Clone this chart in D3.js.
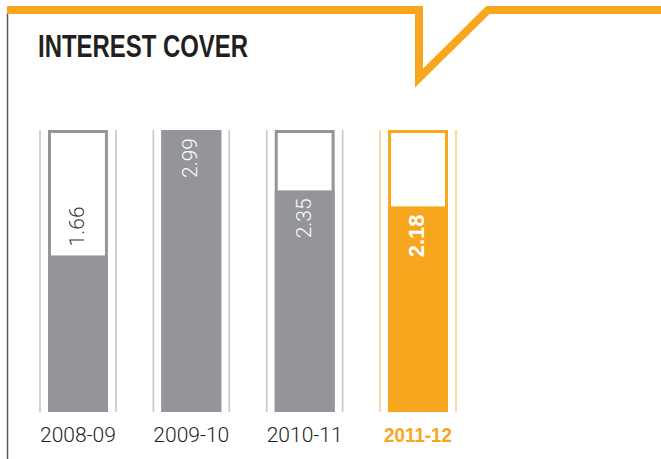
<!DOCTYPE html>
<html>
<head>
<meta charset="utf-8">
<script src="https://cdn.jsdelivr.net/npm/d3@7"></script>
<style>
  html, body { margin: 0; padding: 0; background: #ffffff; }
  svg { display: block; }
</style>
</head>
<body>
<svg id="chart"></svg>
<script>
const title = 'INTEREST COVER'
const years = ['2008-09', '2009-10', '2010-11', '2011-12']
const cover = [1.66, 2.99, 2.35, 2.18]
// where the value sits: above the filled part or inside it
const labelPlace = ['above', 'inside', 'inside', 'inside']

const width = 661
const height = 459
const grey = '#939598'
const greyLine = '#c6c7c8'
const orange = '#f7a61e'
const orangeLine = '#fbcf8c'
const current = years.length - 1

const svg = d3.select('#chart')
  .attr('width', width)
  .attr('height', height)

// frame: orange rule with the notch, grey rule on the left
svg.append('line')
  .attr('x1', 7.5).attr('x2', 7.5)
  .attr('y1', 13).attr('y2', height)
  .attr('stroke', '#58595b')
  .attr('stroke-width', 1.5)

svg.append('path')
  .attr('d', d3.line()([[7, 10], [419, 10], [419, 78], [488, 10], [width + 5, 10]]))
  .attr('fill', 'none')
  .attr('stroke', orange)
  .attr('stroke-width', 8)
  .attr('stroke-linejoin', 'miter')

svg.append('text')
  .attr('x', 38)
  .attr('y', 57)
  .attr('font-family', '"Liberation Sans Narrow", "Liberation Sans", Arial, sans-serif')
  .attr('font-weight', 'bold')
  .attr('font-size', 31)
  .attr('fill', '#231f20')
  .attr('textLength', 210)
  .attr('lengthAdjust', 'spacingAndGlyphs')
  .text(title)

const x = d3.scaleBand()
  .domain(years)
  .range([48, 448])
  .paddingInner(0.4714)
  .paddingOuter(0)

const bw = x.bandwidth()

const y = d3.scaleLinear()
  .domain([0, d3.max(cover)])
  .range([412, 130])

const data = years.map((yr, i) => ({ year: yr, value: cover[i], place: labelPlace[i], i }))

const g = svg.selectAll('.bar')
  .data(data)
  .enter().append('g')
  .attr('class', 'bar')

const fillOf = d => d.i === current ? orange : grey
const lineOf = d => d.i === current ? orangeLine : greyLine

// thin rules either side of each column
g.append('line')
  .attr('x1', d => x(d.year) - 8).attr('x2', d => x(d.year) - 8)
  .attr('y1', y.range()[1]).attr('y2', y.range()[0])
  .attr('stroke', lineOf)
  .attr('stroke-width', 1.6)

g.append('line')
  .attr('x1', d => x(d.year) + bw + 8).attr('x2', d => x(d.year) + bw + 8)
  .attr('y1', y.range()[1]).attr('y2', y.range()[0])
  .attr('stroke', lineOf)
  .attr('stroke-width', 1.6)

// empty container
g.append('rect')
  .attr('x', d => x(d.year) + 1.5)
  .attr('y', y.range()[1] + 1.5)
  .attr('width', bw - 3)
  .attr('height', y.range()[0] - y.range()[1] - 3)
  .attr('fill', '#ffffff')
  .attr('stroke', fillOf)
  .attr('stroke-width', 3)

// filled part
g.append('rect')
  .attr('x', d => x(d.year))
  .attr('y', d => y(d.value))
  .attr('width', bw)
  .attr('height', d => y(0) - y(d.value))
  .attr('fill', fillOf)

// values, rotated
g.append('text')
  .attr('transform', d => {
    const cx = x(d.year) + bw / 2 + 6
    const ty = d.place === 'above' ? y(d.value) - 9 : y(d.value) + 8
    return `translate(${cx},${ty}) rotate(-90)`
  })
  .attr('text-anchor', d => d.place === 'above' ? 'start' : 'end')
  .attr('font-family', d => d.i === current ? '"Liberation Sans Narrow", "Liberation Sans", sans-serif' : 'Roboto, "Liberation Sans", sans-serif')
  .attr('font-weight', d => d.i === current ? 'bold' : 300)
  .attr('font-size', d => d.i === current ? 22 : 21)
  .attr('fill', d => d.place === 'above' ? '#3a3a3c' : '#ffffff')
  .text(d => d.value.toFixed(2))

// year labels
g.append('text')
  .attr('x', d => x(d.year) + bw / 2)
  .attr('y', 442)
  .attr('text-anchor', 'middle')
  .attr('font-family', d => d.i === current ? '"Liberation Sans Narrow", "Liberation Sans", sans-serif' : 'Roboto, "Liberation Sans", sans-serif')
  .attr('font-weight', d => d.i === current ? 'bold' : 300)
  .attr('font-size', 21)
  .attr('fill', d => d.i === current ? orange : '#231f20')
  .attr('textLength', d => d.i === current ? 68 : null)
  .attr('lengthAdjust', 'spacingAndGlyphs')
  .text(d => d.year)
</script>
</body>
</html>
